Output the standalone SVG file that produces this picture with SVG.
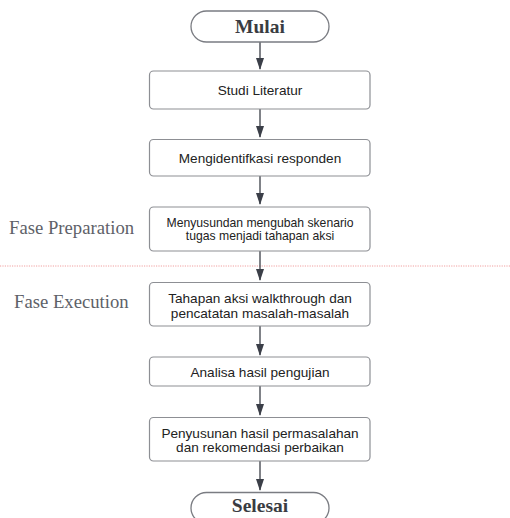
<svg xmlns="http://www.w3.org/2000/svg" width="510" height="518" viewBox="0 0 510 518">
<defs>
<marker id="ah" markerWidth="12" markerHeight="8" refX="11" refY="4" orient="auto" markerUnits="userSpaceOnUse" viewBox="0 0 12 8">
<path d="M0,0 L12,4 L0,8 Z" fill="#3b3f48"/>
</marker>
<style>
.box{fill:#fff;stroke:#8d8f94;stroke-width:1.2}
.term{fill:#fff;stroke:#7a7c82;stroke-width:1.3}
.t{font-family:"Liberation Sans",Arial,sans-serif;font-size:13.6px;fill:#222;text-anchor:middle}
.ts{font-family:"Liberation Sans",Arial,sans-serif;font-size:12.2px;fill:#222;text-anchor:middle}
.tt{font-family:"Liberation Serif","Times New Roman",serif;font-size:19.5px;font-weight:bold;fill:#3a3c42;text-anchor:middle}
.ph{font-family:"Liberation Serif","Times New Roman",serif;font-size:18.7px;fill:#5e6168}
.c{stroke:#3b3f48;stroke-width:1.3;fill:none;marker-end:url(#ah)}
</style>
</defs>
<rect width="510" height="518" fill="#fff"/>
<line x1="0" y1="266" x2="510" y2="266" stroke="#f0a0a0" stroke-width="1" stroke-dasharray="1.2,1.2"/>
<text class="ph" x="9" y="234">Fase Preparation</text>
<text class="ph" x="14" y="308">Fase Execution</text>
<g id="connectors">
<line class="c" x1="260" y1="42" x2="260" y2="69"/>
<line class="c" x1="260" y1="109" x2="260" y2="137"/>
<line class="c" x1="260" y1="176" x2="260" y2="204"/>
<line class="c" x1="260" y1="251" x2="260" y2="280"/>
<line class="c" x1="260" y1="326" x2="260" y2="355"/>
<line class="c" x1="260" y1="386" x2="260" y2="415"/>
<line class="c" x1="260" y1="461" x2="260" y2="490"/>
</g>
<g id="mulai">
<rect class="term" x="191" y="11" width="138" height="31" rx="15.5"/>
<text class="tt" x="260" y="33">Mulai</text>
</g>
<g id="studi">
<rect class="box" x="149.5" y="71" width="220.5" height="38" rx="4"/>
<text class="t" x="260" y="95">Studi Literatur</text>
</g>
<g id="identifikasi">
<rect class="box" x="149.5" y="139.5" width="220.5" height="36.5" rx="4"/>
<text class="t" x="260" y="162.5">Mengidentifkasi responden</text>
</g>
<g id="skenario">
<rect class="box" x="149.5" y="207" width="220.5" height="44" rx="4"/>
<text class="ts" x="260" y="227">Menyusundan mengubah skenario</text>
<text class="ts" x="260" y="239.5">tugas menjadi tahapan aksi</text>
</g>
<g id="walkthrough">
<rect class="box" x="149.5" y="282.5" width="220.5" height="43.5" rx="4"/>
<text class="t" x="260" y="303">Tahapan aksi walkthrough dan</text>
<text class="t" x="260" y="318">pencatatan masalah-masalah</text>
</g>
<g id="analisa">
<rect class="box" x="149.5" y="357" width="220.5" height="29" rx="4"/>
<text class="t" x="260" y="376.5">Analisa hasil pengujian</text>
</g>
<g id="penyusunan">
<rect class="box" x="149.5" y="417.5" width="220.5" height="43.5" rx="4"/>
<text class="t" x="260" y="437.5">Penyusunan hasil permasalahan</text>
<text class="t" x="260" y="451.5">dan rekomendasi perbaikan</text>
</g>
<g id="selesai">
<rect class="term" x="191" y="492.5" width="138" height="31" rx="15.5"/>
<text class="tt" x="260" y="512">Selesai</text>
</g>
</svg>
